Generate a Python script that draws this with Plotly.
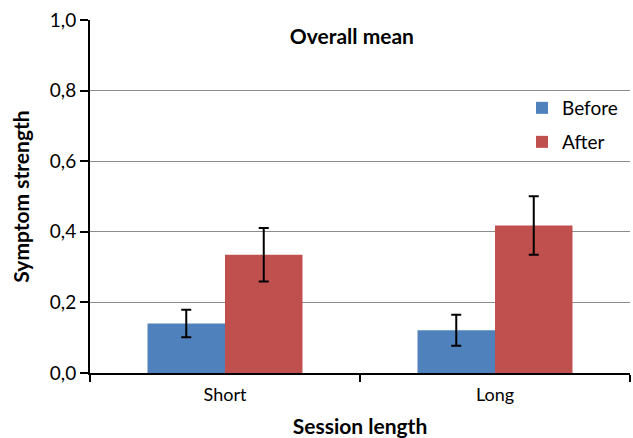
import plotly.graph_objects as go

categories = ["Short", "Long"]
before_vals = [0.140, 0.121]
before_err = [0.039, 0.044]
after_vals = [0.335, 0.418]
after_err = [0.076, 0.083]

FONT = "Lato"

fig = go.Figure()
fig.add_trace(go.Bar(
    x=categories, y=before_vals, name="Before", legend="legend2", showlegend=True,
    marker=dict(color="#4F81BD", line=dict(width=0)),
    error_y=dict(type="data", array=before_err, color="black", thickness=2, width=5),
))
fig.add_trace(go.Bar(
    x=categories, y=after_vals, name="After", legend="legend3", showlegend=True,
    marker=dict(color="#C0504D", line=dict(width=0)),
    error_y=dict(type="data", array=after_err, color="black", thickness=2, width=5),
))

leg_x = (522 - 90) / 540

fig.update_layout(
    width=633, height=438,
    margin=dict(l=90, r=3, t=20, b=65),
    paper_bgcolor="white", plot_bgcolor="white",
    separators=", ",
    barmode="group", bargap=0.426, bargroupgap=0,
    font=dict(family=FONT, color="black", size=19),
    title=dict(text="<b>Overall mean</b>", x=0.485, xref="paper", xanchor="center",
               y=1 - 37 / 438, yanchor="middle", font=dict(size=21, family=FONT)),
    legend2=dict(x=leg_x, y=1 - (108 - 20) / 353, xanchor="left", yanchor="middle",
                 bgcolor="rgba(0,0,0,0)", font=dict(size=19), itemwidth=30),
    legend3=dict(x=leg_x, y=1 - (142 - 20) / 353, xanchor="left", yanchor="middle",
                 bgcolor="rgba(0,0,0,0)", font=dict(size=19), itemwidth=30),
    xaxis=dict(
        automargin=False,
        showline=True, linecolor="black", linewidth=2,
        ticks="outside", tickson="boundaries", ticklen=7, tickwidth=2, tickcolor="black",
        tickfont=dict(size=18), ticklabelstandoff=4,
        title=dict(text="<b>Session length</b>", font=dict(size=21), standoff=18),
    ),
    yaxis=dict(
        automargin=False,
        range=[0, 1], dtick=0.2, tickformat=".1f",
        showline=True, linecolor="black", linewidth=2,
        ticks="outside", ticklen=8, tickwidth=2, tickcolor="black",
        showgrid=True, gridcolor="#8C8C8C", gridwidth=1,
        zeroline=False,
        tickfont=dict(size=19),
        title=dict(text="<b>Symptom strength</b>", font=dict(size=21), standoff=14),
    ),
)

fig.write_html("out.html")
